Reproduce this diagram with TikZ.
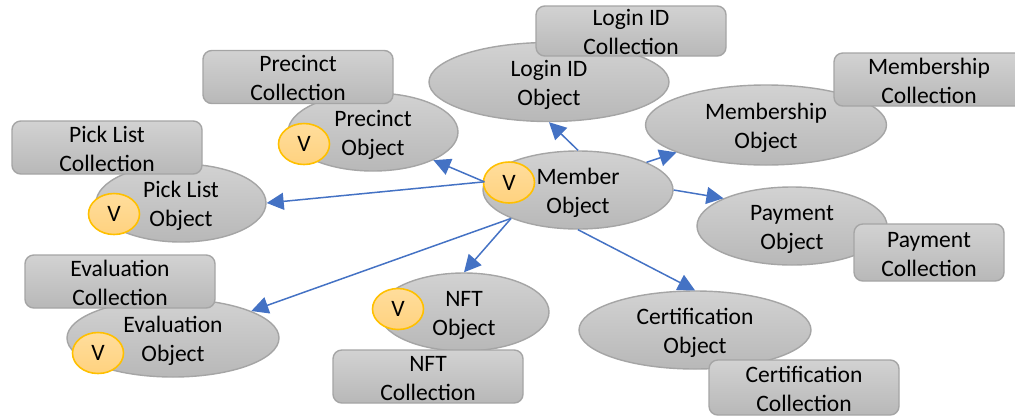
\documentclass[tikz,border=0pt]{standalone}
\usepackage{fontspec}
\setmainfont{Carlito}
\usetikzlibrary{arrows.meta,shapes.geometric}
\definecolor{linkblue}{HTML}{4472C4}
\definecolor{vtop}{HTML}{FFDD9C}
\definecolor{vbottom}{HTML}{FFD27F}
\definecolor{vedge}{HTML}{FFC000}
\definecolor{greytop}{HTML}{D2D2D2}
\definecolor{greybottom}{HTML}{B8B8B8}
\definecolor{greyedge}{HTML}{A5A5A5}

\begin{document}
\begin{tikzpicture}
            \tikzset{object/.style = {shape=ellipse, draw=greyedge, line width=0.8pt, top color=greytop, bottom color=greybottom, inner sep=-3pt, minimum width=3.4cm, minimum height=1.56cm, align=center, font=\fontsize{13.4}{16.5}\selectfont, text height=29.2pt}}
            \tikzset{collection/.style = {shape=rectangle, rounded corners=5pt, draw=greyedge, line width=0.8pt, top color=greytop, bottom color=greybottom, inner sep=0pt, minimum width=3.8cm, minimum height=1.06cm, align=center, font=\fontsize{13.4}{16.5}\selectfont, text height=27.4pt}}
            \tikzset{versioned/.style = {shape=ellipse, draw=vedge, line width=0.9pt, top color=vtop, bottom color=vbottom, inner sep=0pt, minimum width=1.02cm, minimum height=0.82cm, font=\fontsize{13.4}{16.5}\selectfont}}
            \tikzset{link/.style = {draw=linkblue, line width=0.85pt, -{Triangle[length=0.34cm,width=0.34cm]}}}
            \useasboundingbox (0,0) rectangle (20.3,8.3);
            \clip (0,0) rectangle (20.3,8.3);
            % objects
            \node[object,minimum width=4.8cm,minimum height=1.58cm] (login) at (10.98,6.66) {Login ID\\Object};
            \node[object,minimum width=4.82cm,minimum height=1.6cm] (membership) at (15.32,5.8) {Membership\\Object};
            \node[object,minimum width=3.8cm] (member) at (11.56,4.5) {Member\\Object};
            \node[object,minimum width=3.8cm] (payment) at (15.84,3.78) {Payment\\Object};
            \node[object] (precinct) at (7.46,5.66) {Precinct\\Object};
            \node[object] (picklist) at (3.62,4.24) {Pick List\\Object};
            \node[object,minimum width=4.24cm] (evaluation) at (3.46,1.54) {Evaluation\\Object};
            \node[object] (nft) at (9.28,2.06) {NFT\\Object};
            \node[object,minimum width=4.64cm] (certification) at (13.9,1.7) {Certification\\Object};
            % collections
            \node[collection,minimum height=1cm] (loginbox) at (12.62,7.68) {Login ID\\Collection};
            \node[collection] (membershipbox) at (18.58,6.71) {Membership\\Collection};
            \node[collection,minimum width=3cm,minimum height=1.14cm] (paymentbox) at (18.58,3.25) {Payment\\Collection};
            \node[collection] (precinctbox) at (5.96,6.76) {Precinct\\Collection};
            \node[collection] (picklistbox) at (2.14,5.35) {Pick List\\Collection};
            \node[collection] (evaluationbox) at (2.4,2.67) {Evaluation\\Collection};
            \node[collection] (nftbox) at (8.56,0.77) {NFT\\Collection};
            \node[collection,minimum height=1.1cm] (certificationbox) at (16.08,0.55) {Certification\\Collection};
            % versions
            \node[versioned] (memberv) at (10.18,4.65) {V};
            \node[versioned] (precinctv) at (6.08,5.42) {V};
            \node[versioned] (picklistv) at (2.28,4.02) {V};
            \node[versioned] (evaluationv) at (1.96,1.24) {V};
            \node[versioned] (nftv) at (7.96,2.12) {V};
            % edges
            \draw[link] (member.north) to (login.south);
            \draw[link] (member.22) to (membership.197);
            \draw[link] (member.east) to (payment.158);
            \draw[link] (member.175) to (precinct.-25);
            \draw[link] (member.175) to (picklist.east);
            \draw[link] (member.203) to (evaluation.19);
            \draw[link] (member.203) to (nft.north);
            \draw[link] (member.south) to (certification.north);
        \end{tikzpicture}
\end{document}
